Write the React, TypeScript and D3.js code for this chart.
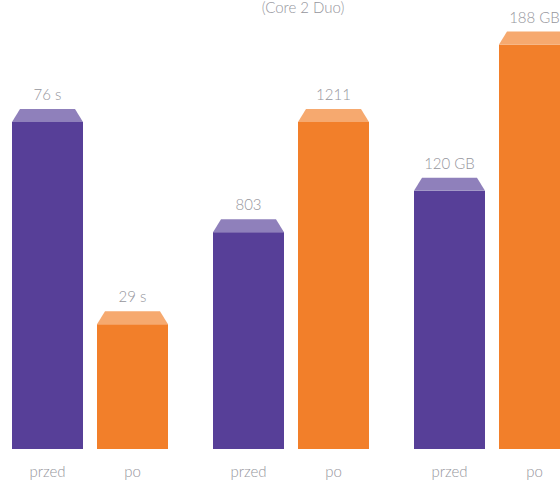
import React from 'react';
import * as d3 from 'd3';

const width = 560;
const height = 480;

const groups = ['czas', 'wynik', 'dysk'];
const barLabels = ['przed', 'po'];
const valuesBefore = [76, 803, 120];
const valuesAfter = [29, 1211, 188];
const valueTexts = [
  ['76 s', '29 s'],
  ['803', '1211'],
  ['120 GB', '188 GB'],
];
// each group has its own scale in the original
const groupDomainMax = [76, 1211, 152];
const subtitle = '(Core 2 Duo)';

const bodyColors = ['#573f98', '#f27f2a'];
const capColors = ['#8f80bb', '#f6a96f'];
const textColor = '#95959c';
const fontFamily = 'Lato, "Open Sans", sans-serif';

export default function App() {
  const baseY = 449;
  const capH = 13;
  const capInset = 8;

  const x0 = d3.scaleBand<string>()
    .domain(groups)
    .range([12, 615])
    .paddingInner(0)
    .paddingOuter(0);

  const x1 = d3.scaleBand<string>()
    .domain(barLabels)
    .range([0, 156])
    .paddingInner(14 / 85);

  const bw = x1.bandwidth();

  return (
    <svg
      width={width}
      height={height}
      style={{ position: 'absolute', left: 0, top: 0, background: '#fff' }}
    >
      <text
        x={303}
        y={13}
        textAnchor="middle"
        fontFamily={fontFamily}
        fontWeight={300}
        fontSize={15}
        fill={textColor}
      >
        {subtitle}
      </text>
      {groups.map((g, gi) => {
        const y = d3.scaleLinear()
          .domain([0, groupDomainMax[gi]])
          .range([baseY, 122]);
        const vals = [valuesBefore[gi], valuesAfter[gi]];
        return (
          <g key={g} transform={'translate(' + x0(g) + ',0)'}>
            {barLabels.map((lbl, bi) => {
              const bx = x1(lbl) as number;
              const top = y(vals[bi]);
              const cap = d3.path();
              cap.moveTo(bx, top);
              cap.lineTo(bx + capInset, top - capH);
              cap.lineTo(bx + bw - capInset, top - capH);
              cap.lineTo(bx + bw, top);
              cap.closePath();
              return (
                <g key={lbl}>
                  <rect x={bx} y={top} width={bw} height={baseY - top} fill={bodyColors[bi]} />
                  <path d={cap.toString()} fill={capColors[bi]} />
                  <text
                    x={bx + bw / 2}
                    y={top - capH - 9}
                    textAnchor="middle"
                    fontFamily={fontFamily}
                    fontWeight={300}
                    fontSize={15}
                    fill={textColor}
                  >
                    {valueTexts[gi][bi]}
                  </text>
                  <text
                    x={bx + bw / 2}
                    y={477}
                    textAnchor="middle"
                    fontFamily={fontFamily}
                    fontWeight={300}
                    fontSize={15}
                    fill={textColor}
                  >
                    {lbl}
                  </text>
                </g>
              );
            })}
          </g>
        );
      })}
    </svg>
  );
}
